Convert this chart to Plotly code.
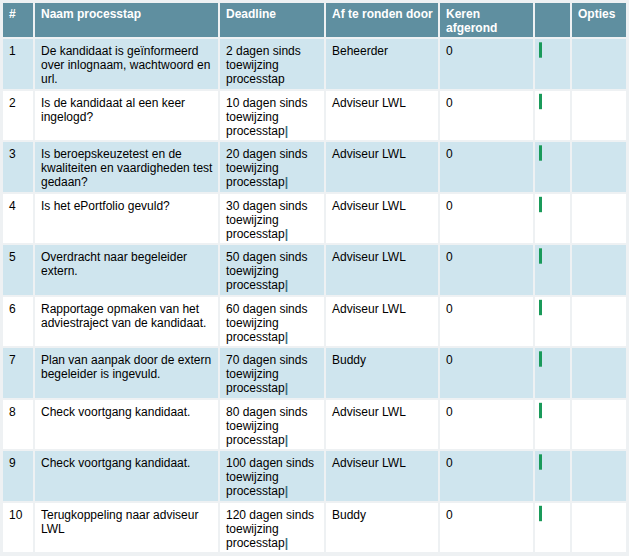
import plotly.graph_objects as go

headers = ["#", "Naam processtap", "Deadline", "Af te ronden door",
           "Keren<br>afgerond", "", "Opties"]

stap_nr = ["1", "2", "3", "4", "5", "6", "7", "8", "9", "10"]
naam = [
    "De kandidaat is geïnformeerd<br>over inlognaam, wachtwoord en<br>url.",
    "Is de kandidaat al een keer<br>ingelogd?",
    "Is beroepskeuzetest en de<br>kwaliteiten en vaardigheden test<br>gedaan?",
    "Is het ePortfolio gevuld?",
    "Overdracht naar begeleider<br>extern.",
    "Rapportage opmaken van het<br>adviestraject van de kandidaat.",
    "Plan van aanpak door de extern<br>begeleider is ingevuld.",
    "Check voortgang kandidaat.",
    "Check voortgang kandidaat.",
    "Terugkoppeling naar adviseur<br>LWL",
]
deadline_dagen = [2, 10, 20, 30, 50, 60, 70, 80, 100, 120]
afronden_door = ["Beheerder", "Adviseur LWL", "Adviseur LWL", "Adviseur LWL",
                 "Adviseur LWL", "Adviseur LWL", "Buddy", "Adviseur LWL",
                 "Adviseur LWL", "Buddy"]
keren_afgerond = [0, 0, 0, 0, 0, 0, 0, 0, 0, 0]
opties = [""] * 10

HEADER = "#5f8fa0"
LIGHT = "#cfe5ee"
LINE = "#eef1f3"
CURSOR = "#3f6f80"
GREEN = "#1a9a5a"
FONT = "Liberation Sans, Arial"

# geometry in pixels (layout, not data)
col_edges = [2, 34, 219, 325, 439, 534, 571, 627]
header_h = 36
row_h = 51.5
top = 2
line_h = 14
n_rows = len(stap_nr)
row_edges = [top, top + header_h] + [top + header_h + row_h * (i + 1) for i in range(n_rows)]

deadline = []
for i, d in enumerate(deadline_dagen):
    txt = f"{d} dagen sinds<br>toewijzing<br>processtap"
    if i > 0:
        txt += f"<span style='color:{CURSOR}'><b>|</b></span>"
    deadline.append(txt)

columns = [stap_nr, naam, deadline, afronden_door,
           [str(k) for k in keren_afgerond], [""] * n_rows, opties]

# cell fills: 2 = header, 1 = light row, 0 = white row
z = [[2] * len(headers)]
for i in range(n_rows):
    z.append([1 if i % 2 == 0 else 0] * len(headers))

fig = go.Figure()
fig.add_trace(go.Heatmap(
    x=col_edges, y=row_edges, z=z,
    colorscale=[[0, "white"], [0.5, LIGHT], [1, HEADER]],
    zmin=0, zmax=2, showscale=False, xgap=2, ygap=2, hoverinfo="skip",
))

# green status marks
row_tops = row_edges[1:-1]
fig.add_trace(go.Scatter(
    x=[col_edges[5] + 6.5] * n_rows,
    y=[t + 12 for t in row_tops],
    mode="markers",
    marker=dict(symbol="line-ns", size=11, line=dict(color=GREEN, width=3)),
    hoverinfo="skip",
))


def cell_text(x, y, text, color, bold=False):
    out = []
    for k, line in enumerate(text.split("<br>")):
        out.append(dict(
            x=x, y=y + k * line_h, text=f"<b>{line}</b>" if bold else line,
            xanchor="left", yanchor="top", align="left", showarrow=False,
            font=dict(family=FONT, size=12, color=color),
        ))
    return out


annotations = []
for c, h in enumerate(headers):
    if h:
        annotations += cell_text(col_edges[c] + 5, row_edges[0] + 3, h, "white", bold=True)
for c, col in enumerate(columns):
    for r, val in enumerate(col):
        if val:
            annotations += cell_text(col_edges[c] + 5, row_tops[r] + 4, val, "black")

fig.update_layout(
    width=629,
    height=556,
    margin=dict(l=0, r=0, t=0, b=0),
    paper_bgcolor="white",
    plot_bgcolor=LINE,
    showlegend=False,
    annotations=annotations,
    xaxis=dict(range=[0, 629], visible=False, fixedrange=True),
    yaxis=dict(range=[556, 0], visible=False, fixedrange=True),
)

fig.write_html("out.html", config={"displayModeBar": False},
               post_script="document.body.style.margin='0px';")
